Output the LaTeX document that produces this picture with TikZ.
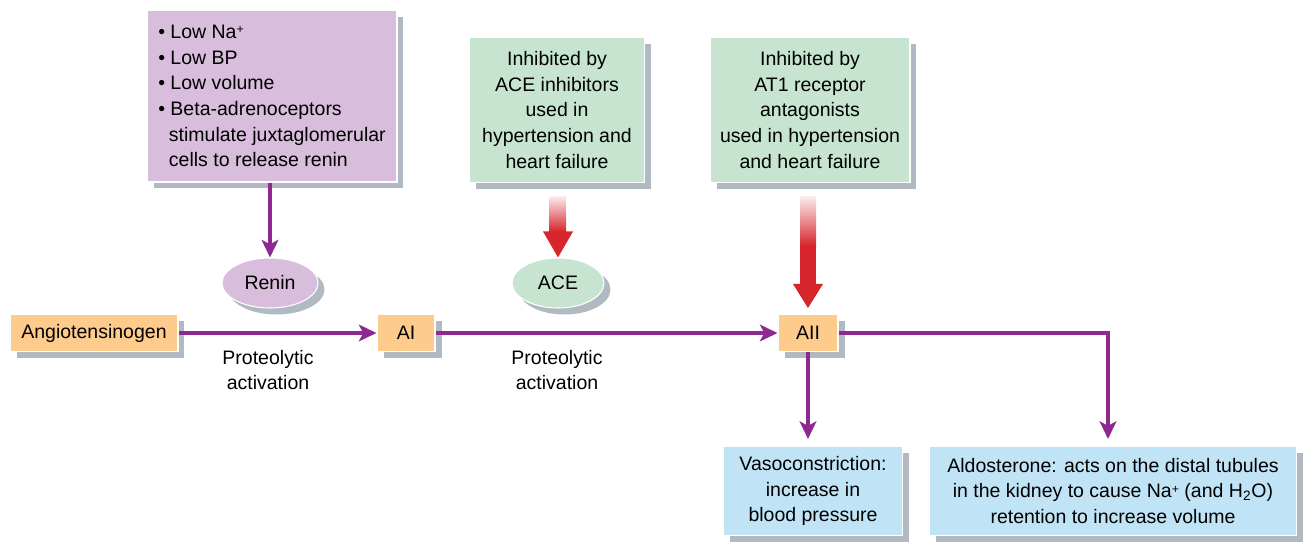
\documentclass[tikz,border=0pt]{standalone}
\usepackage{fontspec}
\setmainfont{Liberation Sans}
\usetikzlibrary{shapes.geometric,shadows,arrows.meta,calc,positioning}

\definecolor{causepurple}{RGB}{217,189,220}
\definecolor{drugreen}{RGB}{198,228,208}
\definecolor{peptorange}{RGB}{253,203,140}
\definecolor{effectblue}{RGB}{192,228,246}
\definecolor{linepurple}{RGB}{142,42,143}
\definecolor{arrowred}{RGB}{214,38,44}
\definecolor{shadowc}{RGB}{125,140,155}

\tikzset{
  shadowed/.style={drop shadow={shadow xshift=0.13cm, shadow yshift=-0.13cm, fill=shadowc, opacity=0.6}},
  box/.style={rectangle, shadowed, draw=white, line width=0.6pt, align=center, inner sep=2pt},
  causebox/.style={box, fill=causepurple, align=left},
  drugbox/.style={box, fill=drugreen},
  peptide/.style={box, fill=peptorange},
  effect/.style={box, fill=effectblue},
  enzyme/.style={ellipse, shadowed, draw=white, line width=0.6pt, inner sep=1pt},
  note/.style={align=center, inner sep=1pt},
  flow/.style={draw=linepurple, line width=2.6pt, -{Stealth[length=10pt, width=9.5pt, inset=2.5pt]}},
  fade/.style={top color=arrowred!8, bottom color=arrowred}
}
\newcommand{\supplus}{\raisebox{0.45ex}{\scriptsize+}}

\begin{document}
\begin{tikzpicture}[x=0.02cm, y=-0.02cm, font=\fontsize{11.1}{14.6}\selectfont]
        % Canvas
        \useasboundingbox (0,0) rectangle (1307,544);

        % Causes and inhibitors
        \node[causebox, minimum width=5cm, minimum height=3.44cm] (stimuli) at (272,96) {\textbullet\ Low Na\supplus\\ \textbullet\ Low BP\\ \textbullet\ Low volume\\ \textbullet\ Beta-adrenoceptors\\ \hspace*{0.55em}stimulate juxtaglomerular\\ \hspace*{0.55em}cells to release renin};
        \node[drugbox, minimum width=3.5cm, minimum height=2.9cm] (inhACE) at (557,110) {Inhibited by\\ ACE inhibitors\\ used in\\ hypertension and\\ heart failure};
        \node[drugbox, minimum width=4cm, minimum height=2.9cm] (inhAT) at (810,110) {Inhibited by\\ AT1 receptor\\ antagonists\\ used in hypertension\\ and heart failure};

        % Enzymes
        \node[enzyme, fill=causepurple, minimum width=1.92cm, minimum height=1cm] (renin) at (270,283) {Renin};
        \node[enzyme, fill=drugreen, minimum width=1.84cm, minimum height=1cm] (ace) at (558,283) {ACE};

        % Peptides
        \node[peptide, minimum width=3.36cm, minimum height=0.74cm] (angio) at (94,333) {Angiotensinogen};
        \node[peptide, minimum width=1.16cm, minimum height=0.74cm] (ai) at (406,333) {AI};
        \node[peptide, minimum width=1.2cm, minimum height=0.74cm] (aii) at (808,333) {AII};
        \node[note] (act1) at (268,370) {Proteolytic\\ activation};
        \node[note] (act2) at (557,370) {Proteolytic\\ activation};

        % Effects
        \node[effect, minimum width=3.58cm, minimum height=1.78cm] (vaso) at (813,491) {Vasoconstriction:\\ increase in\\ blood pressure};
        \node[effect, minimum width=7.34cm, minimum height=1.78cm] (aldo) at (1113,491) {Aldosterone: acts on the distal tubules\\ in the kidney to cause Na\supplus\ (and H\textsubscript{2}O)\\ retention to increase volume};

        % Purple connectors
        \draw[flow] (renin.north |- stimuli.south) -- (renin.north);
        \draw[flow] (angio) -- (ai);
        \draw[flow] (ai) -- (aii);
        \draw[flow, shorten >=0.14cm] (aii.south) -- (aii.south |- vaso.north);
        \draw[flow, shorten >=0.14cm] (aii.east) -| ([xshift=-0.1cm]aldo.north);

        % Red block arrows
        \coordinate (aceFrom) at ($(inhACE.south)+(0,13)$);
        \coordinate (aceTo) at (ace.north);
        \shade[fade] ($(aceFrom)+(-8,0)$) rectangle ($(aceTo)+(8,-26)$);
        \fill[arrowred] ($(aceTo)+(-15,-26)$) -- (aceTo) -- ($(aceTo)+(15,-26)$) -- cycle;

        \coordinate (atFrom) at ($(inhAT.south)+(-2,13)$);
        \coordinate (atTo) at ($(aii.north)+(0,-6)$);
        \shade[fade] ($(atFrom)+(-8,0)$) rectangle ($(atFrom)+(8,50)$);
        \fill[arrowred] ($(atFrom)+(-8,49.5)$) rectangle ($(atTo)+(8,-24)$);
        \fill[arrowred] ($(atTo)+(-15,-24)$) -- (atTo) -- ($(atTo)+(15,-24)$) -- cycle;

    \end{tikzpicture}
\end{document}
